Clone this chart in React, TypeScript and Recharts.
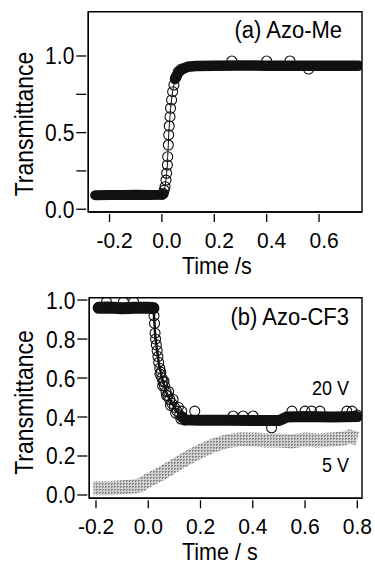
import React from "react";
import { LineChart, Line, XAxis, YAxis, ReferenceArea } from "recharts";

const FONT = '"Liberation Sans", Arial, Helvetica, sans-serif';

// (a) Azo-Me
const azoMeXTicks = [-0.2, 0, 0.2, 0.4, 0.6];
const azoMeYTicks = [0, 0.25, 0.5, 0.75, 1.0];
const azoMeYLabels = [0, 0.5, 1.0];
const azoMeLow = [
  { t: -0.255, v: 0.092 }, { t: -0.2, v: 0.093 }, { t: -0.15, v: 0.093 }, { t: -0.1, v: 0.094 },
  { t: -0.05, v: 0.093 }, { t: 0.0, v: 0.094 }, { t: 0.006, v: 0.1 },
];
const azoMeRise = [
  { t: 0.0, v: 0.098 }, { t: 0.005, v: 0.104 }, { t: 0.009, v: 0.125 }, { t: 0.012, v: 0.147 },
  { t: 0.0155, v: 0.19 }, { t: 0.018, v: 0.235 }, { t: 0.021, v: 0.289 }, { t: 0.022, v: 0.343 },
  { t: 0.0245, v: 0.419 }, { t: 0.026, v: 0.485 }, { t: 0.028, v: 0.543 }, { t: 0.031, v: 0.604 },
  { t: 0.033, v: 0.659 }, { t: 0.037, v: 0.713 }, { t: 0.041, v: 0.767 }, { t: 0.046, v: 0.811 },
  { t: 0.054, v: 0.861 }, { t: 0.063, v: 0.898 }, { t: 0.075, v: 0.915 },
];
const azoMeHigh = [
  { t: 0.05, v: 0.85 }, { t: 0.06, v: 0.885 }, { t: 0.07, v: 0.905 }, { t: 0.085, v: 0.92 },
  { t: 0.1, v: 0.93 }, { t: 0.13, v: 0.935 }, { t: 0.2, v: 0.937 }, { t: 0.3, v: 0.938 },
  { t: 0.4, v: 0.937 }, { t: 0.5, v: 0.936 }, { t: 0.6, v: 0.937 }, { t: 0.7, v: 0.936 },
  { t: 0.75, v: 0.937 },
];
const azoMeOutliers = [
  { t: 0.267, v: 0.967 }, { t: 0.4, v: 0.967 }, { t: 0.489, v: 0.967 }, { t: 0.56, v: 0.915 },
];

// (b) Azo-CF3
const cf3XTicks = [-0.2, 0, 0.2, 0.4, 0.6, 0.8];
const cf3YTicks = [0, 0.2, 0.4, 0.6, 0.8, 1.0];
const cf3Top = [
  { t: -0.19, v: 0.96 }, { t: -0.15, v: 0.962 }, { t: -0.1, v: 0.958 }, { t: -0.05, v: 0.96 },
  { t: 0.0, v: 0.96 }, { t: 0.02, v: 0.958 },
];
const cf3Drop = [
  { t: 0.02, v: 0.96 }, { t: 0.022, v: 0.92 }, { t: 0.024, v: 0.88 }, { t: 0.026, v: 0.83 },
  { t: 0.028, v: 0.8 }, { t: 0.031, v: 0.77 }, { t: 0.034, v: 0.74 }, { t: 0.037, v: 0.71 },
  { t: 0.04, v: 0.68 }, { t: 0.044, v: 0.65 }, { t: 0.048, v: 0.63 }, { t: 0.052, v: 0.6 },
  { t: 0.057, v: 0.58 }, { t: 0.062, v: 0.56 }, { t: 0.068, v: 0.53 }, { t: 0.075, v: 0.51 },
  { t: 0.082, v: 0.49 }, { t: 0.09, v: 0.47 }, { t: 0.1, v: 0.45 }, { t: 0.11, v: 0.43 },
  { t: 0.12, v: 0.41 }, { t: 0.13, v: 0.4 }, { t: 0.14, v: 0.385 },
];
const cf3DropScatter = [
  { t: 0.045, v: 0.62 }, { t: 0.055, v: 0.56 }, { t: 0.06, v: 0.585 }, { t: 0.07, v: 0.51 },
  { t: 0.078, v: 0.53 }, { t: 0.085, v: 0.46 }, { t: 0.095, v: 0.49 }, { t: 0.105, v: 0.42 },
  { t: 0.115, v: 0.45 }, { t: 0.125, v: 0.39 },
];
const cf3Low = [
  { t: 0.13, v: 0.4 }, { t: 0.14, v: 0.385 }, { t: 0.2, v: 0.383 }, { t: 0.3, v: 0.383 },
  { t: 0.4, v: 0.382 }, { t: 0.5, v: 0.382 }, { t: 0.515, v: 0.39 }, { t: 0.53, v: 0.4 },
  { t: 0.6, v: 0.402 }, { t: 0.7, v: 0.4 }, { t: 0.8, v: 0.402 },
];
const cf3Outliers = [
  { t: -0.16, v: 0.99 }, { t: -0.095, v: 0.99 }, { t: -0.056, v: 0.99 }, { t: 0.128, v: 0.43 },
  { t: 0.178, v: 0.43 }, { t: 0.325, v: 0.405 }, { t: 0.363, v: 0.405 }, { t: 0.401, v: 0.405 },
  { t: 0.472, v: 0.345 }, { t: 0.55, v: 0.43 }, { t: 0.6, v: 0.43 }, { t: 0.625, v: 0.43 },
  { t: 0.657, v: 0.43 }, { t: 0.76, v: 0.43 }, { t: 0.78, v: 0.43 }, { t: 0.8, v: 0.41 },
];
const fiveVolt = [
  { t: -0.21, v: 0.035 }, { t: -0.15, v: 0.035 }, { t: -0.1, v: 0.04 }, { t: -0.05, v: 0.045 },
  { t: -0.03, v: 0.05 }, { t: 0.0, v: 0.075 }, { t: 0.05, v: 0.11 }, { t: 0.1, v: 0.15 },
  { t: 0.15, v: 0.19 }, { t: 0.2, v: 0.225 }, { t: 0.25, v: 0.255 }, { t: 0.3, v: 0.275 },
  { t: 0.35, v: 0.285 }, { t: 0.4, v: 0.285 }, { t: 0.45, v: 0.28 }, { t: 0.5, v: 0.28 },
  { t: 0.55, v: 0.275 }, { t: 0.6, v: 0.285 }, { t: 0.65, v: 0.28 }, { t: 0.7, v: 0.285 },
  { t: 0.75, v: 0.29 }, { t: 0.77, v: 0.3 }, { t: 0.8, v: 0.29 },
];

const circle = { r: 5, stroke: "#111", strokeWidth: 1.1, fill: "none" };

// text is a bit taller than wide in the scan, so stretch it vertically
function T({ x, y, size, anchor = "start", rotate = false, sy = 1.1, children }: any) {
  const tf = rotate
    ? `translate(${x},${y}) rotate(-90) scale(1,${sy})`
    : `translate(${x},${y}) scale(1,${sy})`;
  return (
    <text transform={tf} textAnchor={anchor} fontSize={size} fontFamily={FONT} fill="#000">
      {children}
    </text>
  );
}

function XTick({ x, y, payload, dx = 0 }: any) {
  return (
    <g>
      <line x1={x} y1={y} x2={x} y2={y + 8} stroke="#000" strokeWidth={1.3} />
      <T x={x + dx} y={y + 33.5} size={21} anchor="middle" sy={1.05}>{Number(payload.value).toFixed(1)}</T>
    </g>
  );
}

function YTick({ x, y, payload, labels }: any) {
  const v = Number(payload.value);
  const show = !labels || labels.some((l: number) => Math.abs(l - v) < 1e-6);
  return (
    <g>
      <line x1={x - 10} y1={y} x2={x} y2={y} stroke="#000" strokeWidth={1.3} />
      {show && <T x={x - 12} y={y + 8.5} size={21} anchor="end">{v.toFixed(1)}</T>}
    </g>
  );
}

const axisLine = { stroke: "#000", strokeWidth: 1.4 };

function PanelA() {
  const xd = [-0.281, 0.764];
  const yd = [-0.018, 1.289];
  return (
    <LineChart width={375} height={282} margin={{ top: 11.7, right: 13, bottom: 30, left: 28.3 }}>
      <XAxis type="number" dataKey="t" domain={xd} allowDataOverflow ticks={azoMeXTicks} interval={0}
        tickSize={0} tickLine={false} height={40} axisLine={axisLine}
        tick={(p: any) => <XTick {...p} dx={5} />} />
      <YAxis type="number" domain={yd} allowDataOverflow ticks={azoMeYTicks} interval={0} width={60}
        tickSize={0} tickLine={false} axisLine={axisLine}
        tick={(p: any) => <YTick {...p} labels={azoMeYLabels} />} />
      <ReferenceArea x1={xd[0]} x2={xd[1]} y1={yd[0]} y2={yd[1]} fill="none" stroke="#000" strokeWidth={1.4} ifOverflow="visible" />
      <Line data={azoMeLow} dataKey="v" stroke="#111" strokeWidth={10} strokeLinecap="round" dot={false} activeDot={false} isAnimationActive={false} />
      <Line data={azoMeHigh} dataKey="v" stroke="#111" strokeWidth={10.5} strokeLinecap="round" dot={false} activeDot={false} isAnimationActive={false} />
      <Line data={azoMeRise} dataKey="v" stroke="#111" strokeWidth={1} dot={circle} activeDot={false} isAnimationActive={false} />
      <Line data={azoMeOutliers} dataKey="v" stroke="none" dot={circle} activeDot={false} isAnimationActive={false} />
      <T x={342} y={38} size={22} anchor="end">(a) Azo-Me</T>
      <T x={33} y={124} size={23} anchor="middle" rotate>Transmittance</T>
      <T x={182} y={274} size={21.5}>Time /s</T>
    </LineChart>
  );
}

function PanelB() {
  const xd = [-0.2256, 0.818];
  const yd = [-0.017, 1.012];
  return (
    <LineChart width={375} height={282} margin={{ top: 15.7, right: 13, bottom: 25.7, left: 29.3 }}>
      <defs>
        <pattern id="grayHatch" width={3} height={3} patternUnits="userSpaceOnUse">
          <rect width={3} height={3} fill="#d2d2d2" />
          <rect x={0} y={0} width={2} height={1} fill="#858585" />
          <rect x={0} y={1} width={1} height={1} fill="#858585" />
        </pattern>
      </defs>
      <XAxis type="number" dataKey="t" domain={xd} allowDataOverflow ticks={cf3XTicks} interval={0}
        tickSize={0} tickLine={false} height={40} axisLine={axisLine}
        tick={(p: any) => <XTick {...p} />} />
      <YAxis type="number" domain={yd} allowDataOverflow ticks={cf3YTicks} interval={0} width={60}
        tickSize={0} tickLine={false} axisLine={axisLine}
        tick={(p: any) => <YTick {...p} />} />
      <ReferenceArea x1={xd[0]} x2={xd[1]} y1={yd[0]} y2={yd[1]} fill="none" stroke="#000" strokeWidth={1.4} ifOverflow="visible" />
      <Line data={fiveVolt} dataKey="v" stroke="url(#grayHatch)" strokeWidth={14} strokeLinecap="butt" dot={false} activeDot={false} isAnimationActive={false} />
      <Line data={cf3Top} dataKey="v" stroke="#111" strokeWidth={12} strokeLinecap="round" dot={false} activeDot={false} isAnimationActive={false} />
      <Line data={cf3Low} dataKey="v" stroke="#111" strokeWidth={11} strokeLinecap="round" dot={false} activeDot={false} isAnimationActive={false} />
      <Line data={cf3Drop} dataKey="v" stroke="#111" strokeWidth={2.5} dot={circle} activeDot={false} isAnimationActive={false} />
      <Line data={cf3DropScatter} dataKey="v" stroke="none" dot={circle} activeDot={false} isAnimationActive={false} />
      <Line data={cf3Outliers} dataKey="v" stroke="none" dot={circle} activeDot={false} isAnimationActive={false} />
      <T x={349} y={43} size={22} anchor="end">(b) Azo-CF3</T>
      <T x={349} y={113} size={18} anchor="end">20 V</T>
      <T x={349} y={190} size={18} anchor="end">5 V</T>
      <T x={33} y={120.5} size={23} anchor="middle" rotate>Transmittance</T>
      <T x={182} y={278} size={21.5}>Time / s</T>
    </LineChart>
  );
}

export default function App() {
  return (
    <div style={{ position: "absolute", left: 0, top: 0, width: 375, height: 564, background: "#fff" }}>
      <div style={{ position: "absolute", left: 0, top: 0 }}>
        <PanelA />
      </div>
      <div style={{ position: "absolute", left: 0, top: 282 }}>
        <PanelB />
      </div>
    </div>
  );
}
